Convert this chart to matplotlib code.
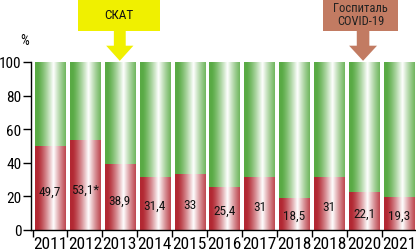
import numpy as np
import matplotlib
matplotlib.use('Agg')
import matplotlib.pyplot as plt
from matplotlib.patches import Rectangle, FancyArrow

years = ['2011', '2012', '2013', '2014', '2015', '2016', '2017', '2018', '2018', '2020', '2021']
share = [49.7, 53.1, 38.9, 31.4, 33, 25.4, 31, 18.5, 31, 22.1, 19.3]
value_labels = ['49,7', '53,1*', '38,9', '31,4', '33', '25,4', '31', '18,5', '31', '22,1', '19,3']
yticks = [0, 20, 40, 60, 80, 100]

plt.rcParams['font.family'] = ['Roboto Condensed', 'DejaVu Sans']

fig = plt.figure(figsize=(4.16, 2.51), dpi=100)
ax = fig.add_axes([31 / 416, 20 / 251, 385 / 416, 168 / 251])

green = np.array([0.35, 0.67, 0.27])
red = np.array([0.70, 0.16, 0.20])
white = np.array([1.0, 1.0, 1.0])


def gradient(dark, n=64):
    t = np.linspace(0, 1, n)
    w = np.clip(1 - np.abs(t - 0.6) / 0.52, 0, 1) ** 1.3
    rgb = dark[None, :] * (1 - w[:, None]) + white[None, :] * w[:, None]
    return rgb[None, :, :]


bw = 0.86
g_img = gradient(green)
r_img = gradient(red)
for i, v in enumerate(share):
    ax.imshow(g_img, extent=[i - bw / 2, i + bw / 2, v, 100], aspect='auto', interpolation='bilinear')
    ax.imshow(r_img, extent=[i - bw / 2, i + bw / 2, 0, v], aspect='auto', interpolation='bilinear')
    ax.text(i, v * 0.46, value_labels[i], ha='center', va='center', fontsize=9.5, color='#111111')

ax.set_xlim(-0.544, 10.487)
ax.set_ylim(0, 100)
ax.set_yticks(yticks)
ax.set_yticklabels([str(t) for t in yticks], fontsize=11)
ax.set_xticks(np.arange(len(years)) - 0.5, minor=False)
ax.set_xticklabels([])
ax.set_xticks(np.arange(len(years)), minor=True)
ax.set_xticklabels(years, minor=True, fontsize=12.5)
ax.tick_params(axis='x', which='minor', length=0, pad=4)
ax.tick_params(axis='x', which='major', length=5, width=1, direction='out')
ax.tick_params(axis='y', length=6, width=1, pad=1)
for s in ['top', 'right']:
    ax.spines[s].set_visible(False)
ax.spines['left'].set_linewidth(1)
ax.spines['bottom'].set_linewidth(1)

fig.text(25 / 416, 1 - 41 / 251, '%', ha='center', va='center', fontsize=10)

# callouts
yellow = '#f0f000'
brown = '#c27b62'
ax.add_patch(Rectangle((0.80, 118.5), 2.35, 25, facecolor=yellow, edgecolor='none', clip_on=False))
ax.add_patch(FancyArrow(2, 118.6, 0, -17.9, width=0.34, head_width=0.78, head_length=9,
                        length_includes_head=True, facecolor=yellow, edgecolor='none', clip_on=False))
ax.text(1.98, 128.5, 'СКАТ', ha='center', va='center', fontsize=9.5, color='#111111')

ax.add_patch(Rectangle((7.82, 118.5), 2.15, 25, facecolor=brown, edgecolor='none', clip_on=False))
ax.add_patch(FancyArrow(8.97, 118.6, 0, -17.9, width=0.36, head_width=0.8, head_length=9,
                        length_includes_head=True, facecolor=brown, edgecolor='none', clip_on=False))
ax.text(8.9, 128.3, 'Госпиталь\nCOVID-19', ha='center', va='center', fontsize=9,
        color='#222222', linespacing=1.0)

fig.savefig('out.png', dpi=100)
